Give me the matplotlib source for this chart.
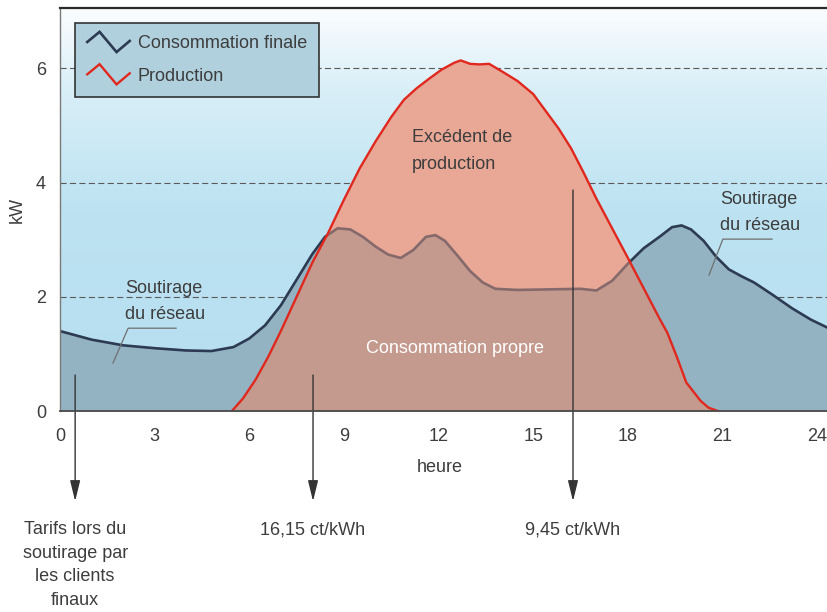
import numpy as np
import matplotlib
matplotlib.use("Agg")
import matplotlib.pyplot as plt
from matplotlib.colors import LinearSegmentedColormap
from matplotlib.legend_handler import HandlerBase
from matplotlib.lines import Line2D

plt.rcParams["font.family"] = ["Liberation Sans", "DejaVu Sans"]

# Consommation finale (kW)
cons_h = [0, 1, 2, 3, 4, 4.8, 5.5, 6, 6.5, 7, 7.5, 8, 8.4, 8.8, 9.2, 9.6, 10,
          10.4, 10.8, 11.2, 11.6, 11.9, 12.2, 12.6, 13, 13.4, 13.8, 14.5, 15.5,
          16.5, 17, 17.5, 18, 18.5, 19, 19.4, 19.7, 20, 20.4, 20.8, 21.2, 21.6,
          22, 22.6, 23.2, 23.8, 24.4]
cons_kw = [1.40, 1.25, 1.15, 1.10, 1.06, 1.05, 1.12, 1.27, 1.50, 1.85, 2.30,
           2.75, 3.05, 3.20, 3.18, 3.05, 2.88, 2.74, 2.68, 2.82, 3.05, 3.08,
           2.98, 2.72, 2.45, 2.25, 2.14, 2.12, 2.13, 2.14, 2.11, 2.28, 2.58,
           2.85, 3.05, 3.22, 3.25, 3.18, 2.98, 2.70, 2.48, 2.36, 2.25, 2.03,
           1.80, 1.60, 1.44]

# Production (kW)
prod_h = [5.45, 5.8, 6.2, 6.6, 7.0, 7.5, 8.0, 8.5, 9.0, 9.5, 10.0, 10.5, 10.9,
          11.3, 11.7, 12.1, 12.5, 12.7, 13.0, 13.3, 13.6, 14.0, 14.5, 15.0,
          15.4, 15.8, 16.2, 16.6, 17.0, 17.5, 18.0, 18.5, 19.0, 19.25, 19.55,
          19.85, 20.3, 20.55, 20.85]
prod_kw = [0.0, 0.22, 0.55, 0.95, 1.40, 2.00, 2.60, 3.12, 3.70, 4.25, 4.72,
           5.15, 5.45, 5.65, 5.82, 5.98, 6.10, 6.14, 6.08, 6.07, 6.08, 5.95,
           5.78, 5.55, 5.25, 4.95, 4.60, 4.17, 3.72, 3.20, 2.68, 2.15, 1.62,
           1.37, 0.95, 0.50, 0.18, 0.06, 0.0]

x_ticks = [0, 3, 6, 9, 12, 15, 18, 21, 24]
y_ticks = [0, 2, 4, 6]
tariff_hours = [0.48, 8.02, 16.26]
tariff_start = [0.63, 0.63, 3.87]
tariff_labels = ["Tarifs lors du\nsoutirage par\nles clients\nfinaux",
                 "16,15 ct/kWh", "9,45 ct/kWh"]

TXT = "#3d3d3d"
NAVY = "#2c3a52"
RED = "#e0281e"
FS = 13


class ZigZag(HandlerBase):
    def create_artists(self, legend, orig, xd, yd, w, h, fontsize, trans):
        xs = np.array([0, 0.29, 0.69, 1.0]) * w - xd
        ys = (np.array([0.5, 1.0, 0.0, 0.55]) * 1.6 - 0.3) * h - yd
        ln = Line2D(xs, ys, color=orig.get_color(), lw=orig.get_linewidth(),
                    solid_joinstyle="miter", transform=trans)
        return [ln]


fig = plt.figure(figsize=(8.28, 6.12), dpi=100)
ax = fig.add_axes([60 / 828, 1 - 411 / 612, 768 / 828, 403 / 612])
xmax = 768 / 31.55
ymax = 403 / 57.1

# background gradient
cmap = LinearSegmentedColormap.from_list(
    "bg", [(0, "#b6def0"), (0.5, "#bde3f2"), (0.8, "#d9eff8"), (1.0, "#fbfdfe")])
grad = np.linspace(0, 1, 256).reshape(-1, 1)
ax.imshow(grad, cmap=cmap, origin="lower", aspect="auto",
          extent=[0, xmax, 0, ymax], zorder=0)

for yv in y_ticks[1:]:
    ax.axhline(yv, color="#5a5a5a", lw=0.8, ls=(0, (5.5, 3)), zorder=1)

# grid draw area, production excess, self-consumption overlap
ax.fill_between(cons_h, 0, cons_kw, color="#93b3c3", lw=0, zorder=2)
ax.plot(cons_h, cons_kw, color=NAVY, lw=1.9, zorder=3)
prod_fill = ax.fill_between(prod_h, 0, prod_kw, color="#e9a796", lw=0, zorder=4)
clip = prod_fill.get_paths()[0]
over = ax.fill_between(cons_h, 0, cons_kw, color="#c49a8e", lw=0, zorder=5)
over.set_clip_path(clip, ax.transData)
inner, = ax.plot(cons_h, cons_kw, color="#86696a", lw=1.9, zorder=6)
inner.set_clip_path(clip, ax.transData)
ax.plot(prod_h, prod_kw, color=RED, lw=1.7, zorder=7)

# legend proxies
h1, = ax.plot([], [], color=NAVY, lw=1.9, label="Consommation finale")
h2, = ax.plot([], [], color=RED, lw=1.7, label="Production")
leg = ax.legend(handles=[h1, h2], handler_map={Line2D: ZigZag()},
                loc="upper left", bbox_to_anchor=(15 / 768, 388 / 403),
                borderaxespad=0, fontsize=FS, handlelength=2.35,
                handletextpad=0.45, labelspacing=0.85, borderpad=0.68,
                fancybox=False, framealpha=1, facecolor="#b0d0de",
                edgecolor="#333333")
leg.get_frame().set_linewidth(1.2)
for t in leg.get_texts():
    t.set_color(TXT)

# area labels
ax.text(11.16, 4.55, "Excédent de\nproduction", fontsize=FS, color=TXT,
        ha="left", va="center", linespacing=1.75, zorder=8)
ax.text(12.52, 1.10, "Consommation propre", fontsize=FS, color="white",
        ha="center", va="center", zorder=8)
ax.text(2.06, 1.91, "Soutirage\ndu réseau", fontsize=FS, color=TXT,
        ha="left", va="center", linespacing=1.7, zorder=8)
ax.plot([3.68, 2.16, 1.68], [1.45, 1.45, 0.84], color="#6f6f6f", lw=0.9, zorder=8)
ax.text(20.92, 3.47, "Soutirage\ndu réseau", fontsize=FS, color=TXT,
        ha="left", va="center", linespacing=1.7, zorder=8)
ax.plot([22.57, 21.01, 20.57], [3.01, 3.01, 2.38], color="#6f6f6f", lw=0.9, zorder=8)

# tariff arrows and labels below the chart
for hx, y0, lab in zip(tariff_hours, tariff_start, tariff_labels):
    ax.annotate("", xy=(hx, -1.58), xytext=(hx, y0), annotation_clip=False,
                arrowprops=dict(arrowstyle="-|>,head_length=0.9,head_width=0.22",
                                color="#333333", lw=1.0, mutation_scale=14,
                                shrinkA=0, shrinkB=0), zorder=9)
    ax.text(hx, -1.93, lab, fontsize=FS, color=TXT, ha="center", va="top",
            linespacing=1.5, clip_on=False)

ax.set_xlim(0, xmax)
ax.set_ylim(0, ymax)
ax.set_xticks(x_ticks)
ax.set_yticks(y_ticks)
ax.tick_params(length=0, labelsize=FS, labelcolor=TXT)
ax.tick_params(axis="x", pad=12)
ax.tick_params(axis="y", pad=10)
ax.set_xlabel("heure", fontsize=FS, color=TXT)
ax.xaxis.set_label_coords(380 / 768, -48 / 403)
ax.set_ylabel("kW", fontsize=FS, color=TXT)
ax.yaxis.set_label_coords(-34 / 768, 0.5)

ax.spines["right"].set_visible(False)
ax.spines["top"].set_color("#2b2b2b")
ax.spines["top"].set_linewidth(1.6)
ax.spines["left"].set_color("#7a7a7a")
ax.spines["left"].set_linewidth(1.0)
ax.spines["bottom"].set_color("#4a4a4a")
ax.spines["bottom"].set_linewidth(1.3)
for s in ax.spines.values():
    s.set_zorder(10)

fig.savefig("out.png", dpi=100, facecolor="white")
